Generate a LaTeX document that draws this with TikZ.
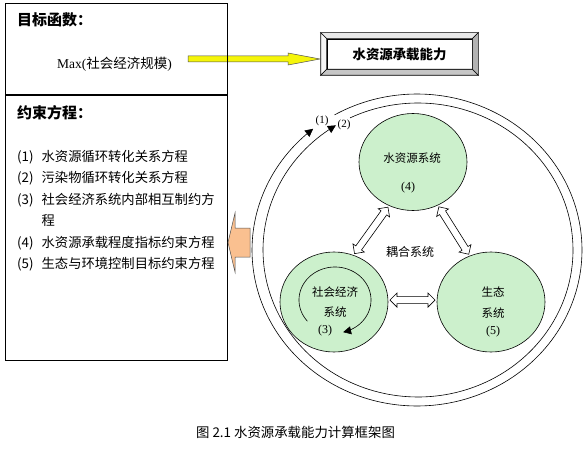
\documentclass[tikz,border=0pt]{standalone}
\usepackage{fontspec}
\setmainfont{Noto Sans CJK SC}
\newfontfamily\latinfont{Liberation Serif}
\usetikzlibrary{calc,arrows.meta,shapes.geometric}
\definecolor{sysgreen}{RGB}{204,240,204}
\definecolor{arryellow}{RGB}{245,245,10}
\definecolor{arrorange}{RGB}{250,192,144}
\definecolor{edgegray}{RGB}{80,80,80}
\newcommand\hollowarrow[2]{%
  \coordinate (ha1) at ($(#1)!7pt!(#2)$);
  \coordinate (hb1) at ($(#2)!7pt!(#1)$);
  \draw[blockarrow] (#1) -- ($(ha1)!7pt!90:(#2)$) -- ($(ha1)!3.5pt!90:(#2)$)
    -- ($(hb1)!3.5pt!90:(#2)$) -- ($(hb1)!7pt!90:(#2)$) -- (#2)
    -- ($(hb1)!7pt!-90:(#2)$) -- ($(hb1)!3.5pt!-90:(#2)$)
    -- ($(ha1)!3.5pt!-90:(#2)$) -- ($(ha1)!7pt!-90:(#2)$) -- cycle;%
}
\begin{document}
\begin{tikzpicture}[x=1pt,y=-1pt,
  panelline/.style={draw=black,line width=1.2pt},
  sys/.style={ellipse,draw=black,line width=0.6pt,fill=sysgreen,inner sep=0pt,outer sep=2pt,minimum width=108pt},
  systxt/.style={inner sep=0pt,font=\fontsize{11.5}{13}\selectfont},
  numtxt/.style={inner sep=0pt,font=\latinfont\fontsize{12}{13}\selectfont},
  titletxt/.style={inner sep=0pt,anchor=west,font=\fontsize{15}{17}\selectfont\bfseries},
  itemtxt/.style={inner sep=0pt,anchor=base west,font=\fontsize{13.3}{15}\selectfont},
  ring/.style={draw=black,line width=0.6pt},
  ringtip/.style={-{Triangle[length=8pt,width=8pt]}},
  blockarrow/.style={draw=black,line width=0.6pt,fill=white,line join=miter},
  yarrow/.style={draw=edgegray,line width=0.5pt,fill=arryellow},
  oarrow/.style={draw=edgegray,line width=0.5pt,fill=arrorange}
]
\useasboundingbox[fill=white] (0,0) rectangle (585,449);

% capacity box
\node[draw=black,line width=0.6pt,fill=white,minimum width=145pt,minimum height=30pt,inner sep=0pt,
      font=\fontsize{13.4}{15}\selectfont\bfseries] (cap) at (399.5,54) {水资源承载能力};
\coordinate (o1) at ($(cap.north west)+(-6,-6)$);
\coordinate (o2) at ($(cap.north east)+(6,-6)$);
\coordinate (o3) at ($(cap.south east)+(6,6)$);
\coordinate (o4) at ($(cap.south west)+(-6,6)$);
\draw[fill=gray!18,line width=0.6pt] (o1) -- (o2) -- (cap.north east) -- (cap.north west) -- cycle;
\draw[fill=gray!8,line width=0.6pt] (o1) -- (cap.north west) -- (cap.south west) -- (o4) -- cycle;
\draw[fill=gray!60,line width=0.6pt] (o2) -- (o3) -- (cap.south east) -- (cap.north east) -- cycle;
\draw[fill=gray!45,line width=0.6pt] (o4) -- (cap.south west) -- (cap.south east) -- (o3) -- cycle;

% yellow arrow
\coordinate (ya) at (188,59);
\coordinate (yt) at (320,59);
\draw[yarrow] ($(ya)+(0,-3)$) -- ($(yt)+(-32,-3)$) -- ($(yt)+(-32,-6)$) -- (yt)
  -- ($(yt)+(-32,6)$) -- ($(yt)+(-32,3)$) -- ($(ya)+(0,3)$) -- cycle;

% left panel
\node[panelline,minimum width=222pt,minimum height=357pt,inner sep=0pt,anchor=north west] (panel) at (5,3) {};
\coordinate (dl) at (5,95);
\coordinate (dr) at (227,95);
\draw[line width=1.2pt] (dl) -- (dr);
\node[titletxt] (t1) at (17,20) {目标函数：};
\node[inner sep=0pt,anchor=west,font=\fontsize{13.5}{15}\selectfont] (maxf) at (57,64) {{\latinfont Max(}社会经济规模{\latinfont )}};
\node[titletxt] (t2) at (17,113) {约束方程：};
\node[itemtxt] (c1) at (17,161) {\makebox[24.5pt][l]{(1)}水资源循环转化关系方程};
\node[itemtxt] (c2) at (17,182.5) {\makebox[24.5pt][l]{(2)}污染物循环转化关系方程};
\node[itemtxt] (c3) at (17,204) {\makebox[24.5pt][l]{(3)}社会经济系统内部相互制约方};
\node[itemtxt] (c3b) at (41.5,225.5) {程};
\node[itemtxt] (c4) at (17,247) {\makebox[24.5pt][l]{(4)}水资源承载程度指标约束方程};
\node[itemtxt] (c5) at (17,268.5) {\makebox[24.5pt][l]{(5)}生态与环境控制目标约束方程};

% orange arrow
\coordinate (ot) at (228,242.5);
\draw[oarrow] (ot) -- ++(7,-29.5) -- ++(0,15) -- ++(15,0) -- ++(0,29) -- ++(-15,0) -- ++(0,15) -- cycle;

% outer rings
\draw[ring,ringtip] plot[domain=-120:231,samples=200,variable=\t] ({417+165*cos(\t)},{250+156*sin(\t)});
\draw[ring,ringtip] plot[domain=-116:238,samples=200,variable=\t] ({418+155*cos(\t)},{250+147*sin(\t)});
\node[inner sep=0pt,font=\latinfont\fontsize{11}{12}\selectfont] (l1) at (322,121) {(1)};
\node[inner sep=0pt,font=\latinfont\fontsize{11}{12}\selectfont] (l2) at (344,125) {(2)};

% systems
\node[sys,minimum height=97pt] (w) at (413,162) {};
\node[sys,minimum height=100pt] (s) at (334,302) {};
\node[sys,minimum height=100pt] (e) at (491,302) {};

\node[systxt] (wt) at (412,158) {水资源系统};
\node[numtxt] (wn) at (408,188) {(4)};
\node[systxt] (st1) at (335,292) {社会经济};
\node[systxt] (st2) at (335,312) {系统};
\node[numtxt] (sn) at (325,331) {(3)};
\node[systxt] (et1) at (493,292) {生态};
\node[systxt] (et2) at (493,313) {系统};
\node[numtxt] (en) at (493,332) {(5)};
\node[inner sep=0pt,font=\fontsize{12}{13}\selectfont] (cpl) at (410,252) {耦合系统};

% inner cycle of socio-economic system
\draw[ring,ringtip] plot[domain=140:437,samples=120,variable=\t] ({335+36*cos(\t)},{300+33*sin(\t)});

% coupling arrows
\hollowarrow{w.241}{s.67}
\hollowarrow{w.300}{e.115}
\hollowarrow{s.2}{e.178}

% caption
\node[inner sep=0pt,font=\fontsize{13.4}{15}\selectfont] (capt) at (295.5,432) {图 2.1 水资源承载能力计算框架图};
\end{tikzpicture}
\end{document}
